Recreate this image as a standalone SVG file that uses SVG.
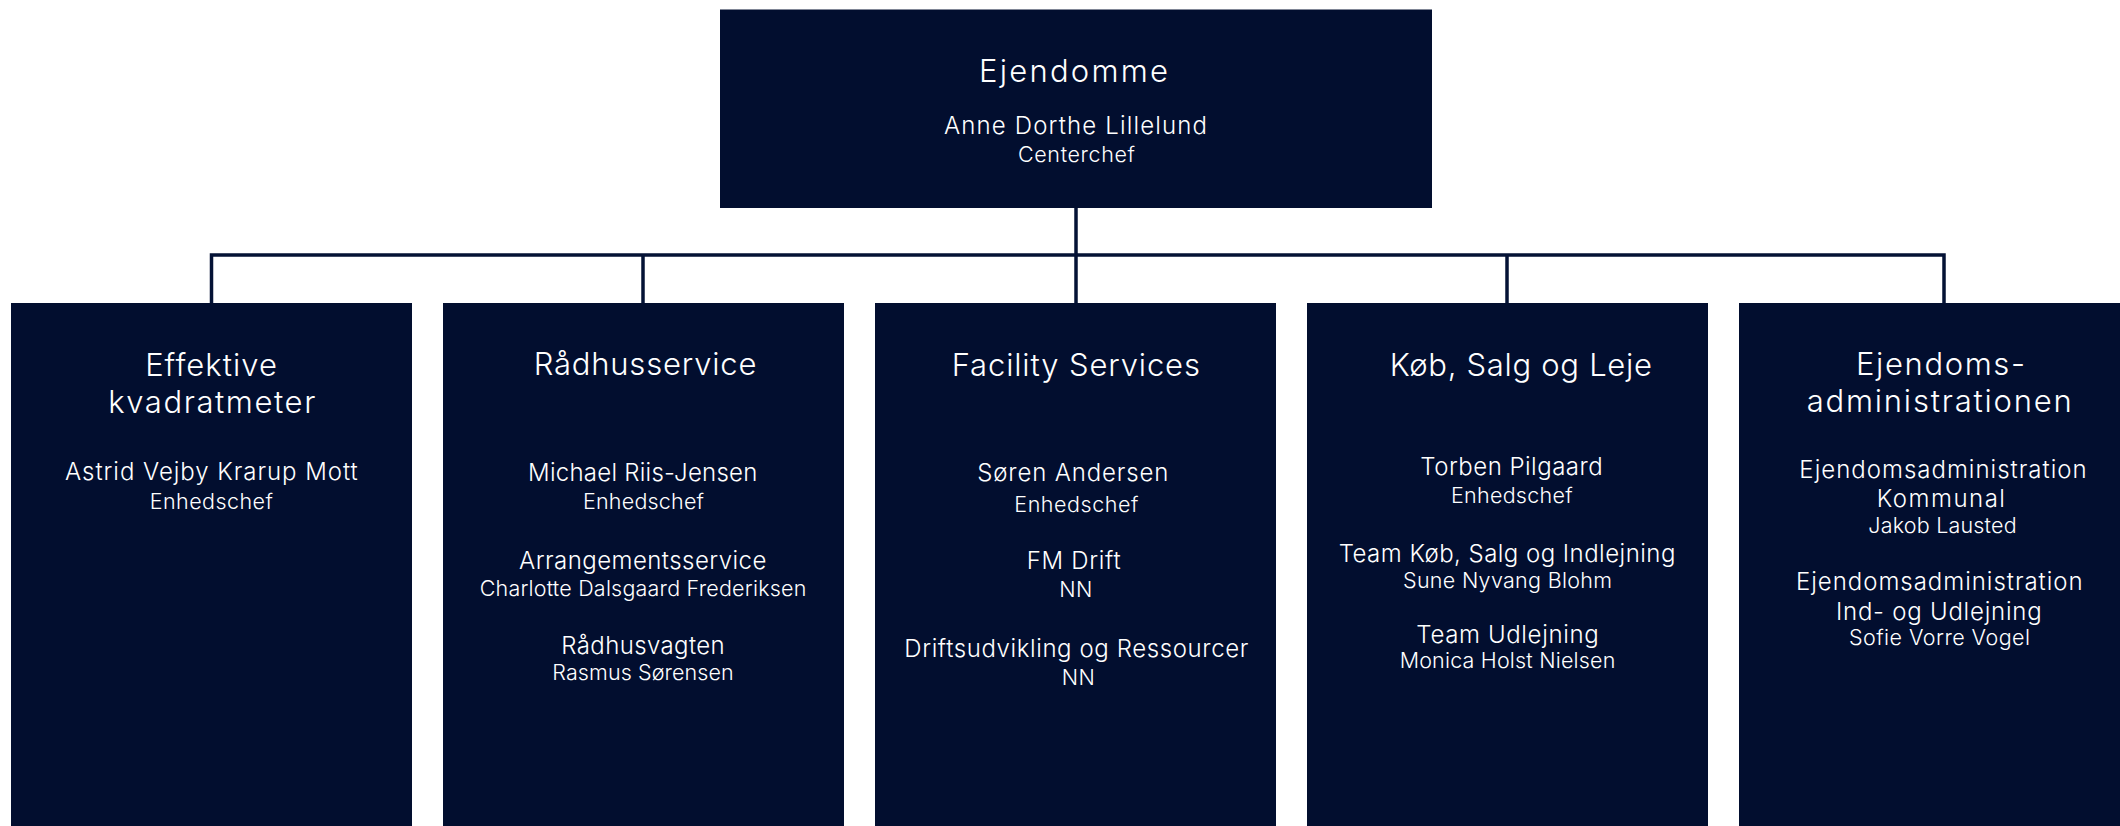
<svg xmlns="http://www.w3.org/2000/svg" width="2120" height="826" viewBox="0 0 2120 826">
<style>
.box{fill:#020e2f}
.conn{stroke:#041235;stroke-width:3.5;fill:none}
text{fill:#ffffff;font-family:Inter,"Noto Sans","DejaVu Sans",sans-serif;font-weight:300;text-anchor:middle}
.t{font-size:31px}
.n{font-size:24px}
.r{font-size:21.5px}
</style>
<rect width="2120" height="826" fill="#ffffff"/>
<g id="connectors">
<path class="conn" d="M1076 208 V303"/>
<path class="conn" d="M211.5 303 V255 H1944 V303"/>
<path class="conn" d="M643 255 V303"/>
<path class="conn" d="M1507 255 V303"/>
</g>
<g id="ejendomme">
<rect class="box" x="720" y="9.5" width="712" height="198.5"/>
<text class="t" x="1073.5" y="82" textLength="189" lengthAdjust="spacing">Ejendomme</text>
<text class="n" x="1075.5" y="134" textLength="263" lengthAdjust="spacing">Anne Dorthe Lillelund</text>
<text class="r" x="1076.5" y="162" textLength="117" lengthAdjust="spacing">Centerchef</text>
</g>
<g id="effektive">
<rect class="box" x="11" y="303" width="401" height="530"/>
<text class="t" x="211" y="376" textLength="131.7" lengthAdjust="spacing">Effektive</text>
<text class="t" x="211.8" y="412.7" textLength="207" lengthAdjust="spacing">kvadratmeter</text>
<text class="n" x="211.3" y="480" textLength="292.7" lengthAdjust="spacing">Astrid Vejby Krarup Mott</text>
<text class="r" x="211.3" y="509" textLength="123.3" lengthAdjust="spacing">Enhedschef</text>
</g>
<g id="raadhusservice">
<rect class="box" x="443" y="303" width="401" height="530"/>
<text class="t" x="645" y="375" textLength="222.7" lengthAdjust="spacing">Rådhusservice</text>
<text class="n" x="642.7" y="481" textLength="229.3" lengthAdjust="spacing">Michael Riis-Jensen</text>
<text class="r" x="643.5" y="509" textLength="121" lengthAdjust="spacing">Enhedschef</text>
<text class="n" x="642.7" y="569.3" textLength="247.3" lengthAdjust="spacing">Arrangementsservice</text>
<text class="r" x="643" y="595.7" textLength="326.7" lengthAdjust="spacing">Charlotte Dalsgaard Frederiksen</text>
<text class="n" x="643" y="654" textLength="163.3" lengthAdjust="spacing">Rådhusvagten</text>
<text class="r" x="643" y="680" textLength="181.3" lengthAdjust="spacing">Rasmus Sørensen</text>
</g>
<g id="facility">
<rect class="box" x="875" y="303" width="401" height="530"/>
<text class="t" x="1075.8" y="375.7" textLength="248.3" lengthAdjust="spacing">Facility Services</text>
<text class="n" x="1072.8" y="480.7" textLength="191" lengthAdjust="spacing">Søren Andersen</text>
<text class="r" x="1076.3" y="511.7" textLength="124" lengthAdjust="spacing">Enhedschef</text>
<text class="n" x="1073.7" y="569" textLength="94" lengthAdjust="spacing">FM Drift</text>
<text class="r" x="1075.8" y="596.7" textLength="33" lengthAdjust="spacing">NN</text>
<text class="n" x="1076.3" y="656.7" textLength="344" lengthAdjust="spacing">Driftsudvikling og Ressourcer</text>
<text class="r" x="1078.3" y="685" textLength="33" lengthAdjust="spacing">NN</text>
</g>
<g id="koeb">
<rect class="box" x="1307" y="303" width="401" height="530"/>
<text class="t" x="1520.8" y="375.7" textLength="262.3" lengthAdjust="spacing">Køb, Salg og Leje</text>
<text class="n" x="1511.5" y="475" textLength="182.3" lengthAdjust="spacing">Torben Pilgaard</text>
<text class="r" x="1511.8" y="503.3" textLength="121.7" lengthAdjust="spacing">Enhedschef</text>
<text class="n" x="1507" y="562.3" textLength="336.7" lengthAdjust="spacing">Team Køb, Salg og Indlejning</text>
<text class="r" x="1507.5" y="588.3" textLength="209" lengthAdjust="spacing">Sune Nyvang Blohm</text>
<text class="n" x="1507.5" y="643.3" textLength="182.3" lengthAdjust="spacing">Team Udlejning</text>
<text class="r" x="1507.5" y="668.3" textLength="215.7" lengthAdjust="spacing">Monica Holst Nielsen</text>
</g>
<g id="ejendomsadministrationen">
<rect class="box" x="1739" y="303" width="410" height="530"/>
<text class="t" x="1940.5" y="375" textLength="169" lengthAdjust="spacing">Ejendoms-</text>
<text class="t" x="1939.2" y="411.7" textLength="265" lengthAdjust="spacing">administrationen</text>
<text class="n" x="1943" y="478.3" textLength="287.3" lengthAdjust="spacing">Ejendomsadministration</text>
<text class="n" x="1940.8" y="507.3" textLength="128.3" lengthAdjust="spacing">Kommunal</text>
<text class="r" x="1942.5" y="532.7" textLength="148.3" lengthAdjust="spacing">Jakob Lausted</text>
<text class="n" x="1939.3" y="590" textLength="286.7" lengthAdjust="spacing">Ejendomsadministration</text>
<text class="n" x="1938.8" y="620" textLength="205.7" lengthAdjust="spacing">Ind- og Udlejning</text>
<text class="r" x="1939.5" y="645" textLength="181" lengthAdjust="spacing">Sofie Vorre Vogel</text>
</g>
</svg>
